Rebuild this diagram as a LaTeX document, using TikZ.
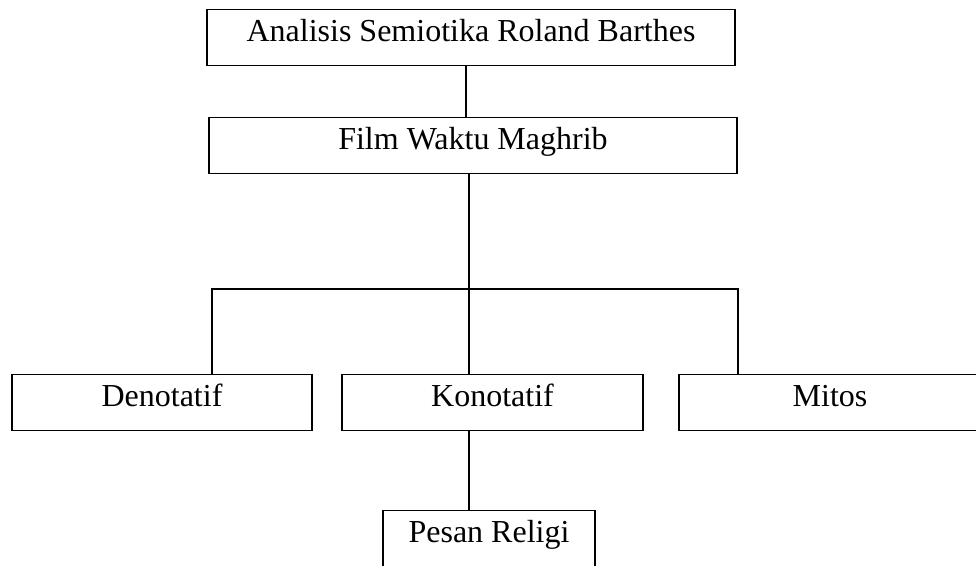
\documentclass[tikz,border=0pt]{standalone}
\usepackage{fontspec}
\setmainfont{Liberation Serif}
\usepackage{tikz}
\usetikzlibrary{positioning}
\tikzstyle{box} = [draw, rectangle, anchor=north, inner xsep=0pt, inner ysep=0pt, text height=24pt, text depth=18pt, font=\fontsize{24pt}{28pt}\selectfont]
\tikzstyle{link} = [line width=0.9pt]
\tikzstyle{coord} = [coordinate]

\begin{document}
\begin{tikzpicture}[x=0.75pt,y=-0.75pt,line width=0.9pt]
    \useasboundingbox (0,0) rectangle (976,565);
    \node [box, minimum width=528*0.75pt] (title) at (471,9) {Analisis Semiotika Roland Barthes};
    \node [box, minimum width=528*0.75pt] (film) at (473,117) {Film Waktu Maghrib};
    \node [box, minimum width=300*0.75pt] (deno) at (162,374) {Denotatif};
    \node [box, minimum width=301*0.75pt] (kono) at (492.5,374) {Konotatif};
    \node [box, minimum width=302*0.75pt] (mitos) at (830,374) {Mitos};
    \node [box, minimum width=212*0.75pt] (pesan) at (489,510) {Pesan Religi};

    \coordinate (spine) at (466,0);
    \coordinate (split) at (469,289);
    \coordinate (bl) at (212,289);
    \coordinate (br) at (738,289);

    \draw [link] (title.south -| spine) -- (film.north -| spine);
    \draw [link] (film.south -| split) -- (split);
    \draw [link] (deno.north -| bl) -- (bl) -- (br) -- (mitos.north -| br);
    \draw [link] (split) -- (kono.north -| split);
    \draw [link] (kono.south -| split) -- (pesan.north -| split);
\end{tikzpicture}
\end{document}
